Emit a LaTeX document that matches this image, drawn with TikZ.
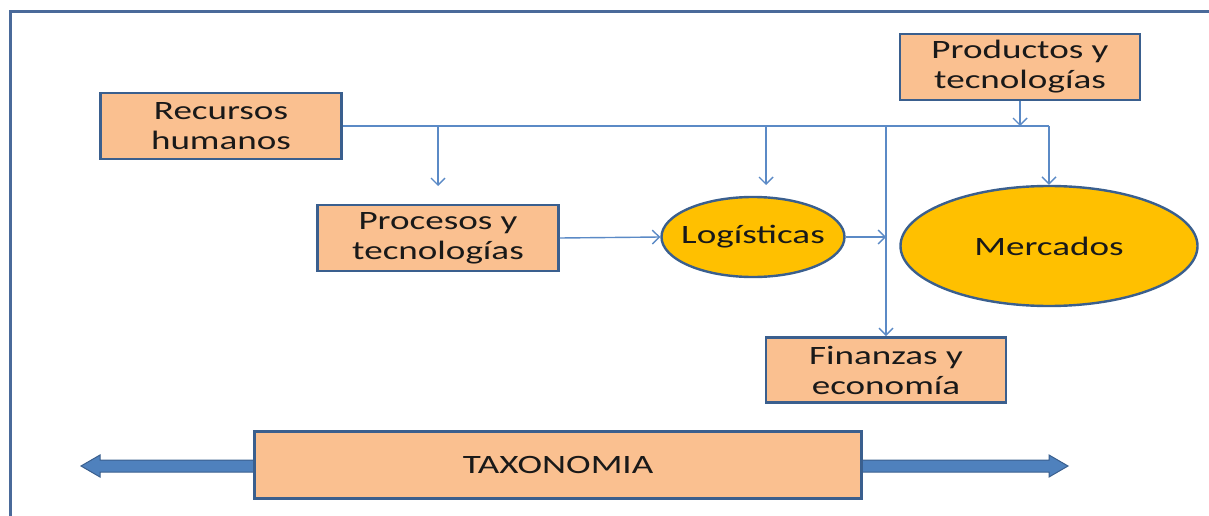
\documentclass[tikz,border=0pt]{standalone}
\usepackage{fontspec}
\setmainfont{Carlito}[FakeStretch=1.4]
\usetikzlibrary{arrows.meta,shapes.geometric}
\definecolor{boxfill}{HTML}{FAC090}
\definecolor{boxline}{HTML}{3A5F8E}
\definecolor{ellfill}{HTML}{FFC000}
\definecolor{conn}{HTML}{5B8AC6}
\definecolor{band}{HTML}{4F81BD}
\definecolor{frame}{HTML}{4A6A9A}
\tikzset{
  lbl/.style={font=\fontsize{26.5}{30}\selectfont, text=black!90, align=center, inner sep=0pt},
  rbox/.style={lbl, draw=boxline, line width=2.6pt, fill=boxfill},
  oval/.style={lbl, ellipse, draw=boxline, line width=2.4pt, fill=ellfill},
  link/.style={draw=conn, line width=1.4pt},
  arr/.style={link, -{Straight Barb[length=7pt,width=14pt,line width=1.4pt]}},
}
\begin{document}
\begin{tikzpicture}[x=1pt,y=-1pt]
\useasboundingbox (0,0) rectangle (1209,516);
% frame
\draw[frame, line width=3pt] (10,516) -- (10,12) -- (1212,12);
% nodes
\node[rbox, minimum width=241pt, minimum height=66pt] (rh) at (221,126) {Recursos\\humanos};
\node[rbox, minimum width=240pt, minimum height=66pt] (prod) at (1020,67) {Productos y\\tecnologías};
\node[rbox, minimum width=241pt, minimum height=66pt] (proc) at (438,238) {Procesos y\\tecnologías};
\node[oval, inner xsep=-12pt, minimum width=183pt, minimum height=80pt] (log) at (753,237) {\raisebox{6pt}{Logísticas}};
\node[oval, minimum width=297pt, minimum height=120pt] (merc) at (1049,246) {Mercados};
\node[rbox, minimum width=240pt, minimum height=65pt] (fin) at (886,370) {Finanzas y\\economía};
% double arrow band
\coordinate (bl) at (81,466);
\coordinate (br) at (1068,466);
\filldraw[fill=band, draw=boxline, line width=1pt]
  (bl) -- ++(19,-11) -- ++(0,5) -- ++(949,0) -- ++(0,-5) -- (br)
  -- ++(-19,11) -- ++(0,-5) -- ++(-949,0) -- ++(0,5) -- cycle;
\node[rbox, minimum width=607pt, minimum height=67pt] (tax) at (558,465) {TAXONOMIA};
% connectors
\coordinate (jm) at (merc.north |- rh.east);
\coordinate (jp) at (438,126);
\coordinate (jpe) at (438,186);
\coordinate (jl) at (766,126);
\coordinate (jle) at (766,185);
\coordinate (jf) at (fin.north |- rh.east);
\coordinate (jfl) at (fin.north |- log.east);
\draw[link] (rh.east) -- (jm);
\draw[arr] (jm) -- (merc.north);
\draw[arr] (jp) -- (jpe);
\draw[arr] (jl) -- (jle);
\draw[arr] (jf) -- (fin.north);
\draw[arr] (prod.south) -- (prod.south |- rh.east);
\draw[arr] (proc.east) -- (log.west);
\draw[arr] (log.east) -- (jfl);
\end{tikzpicture}
\end{document}
